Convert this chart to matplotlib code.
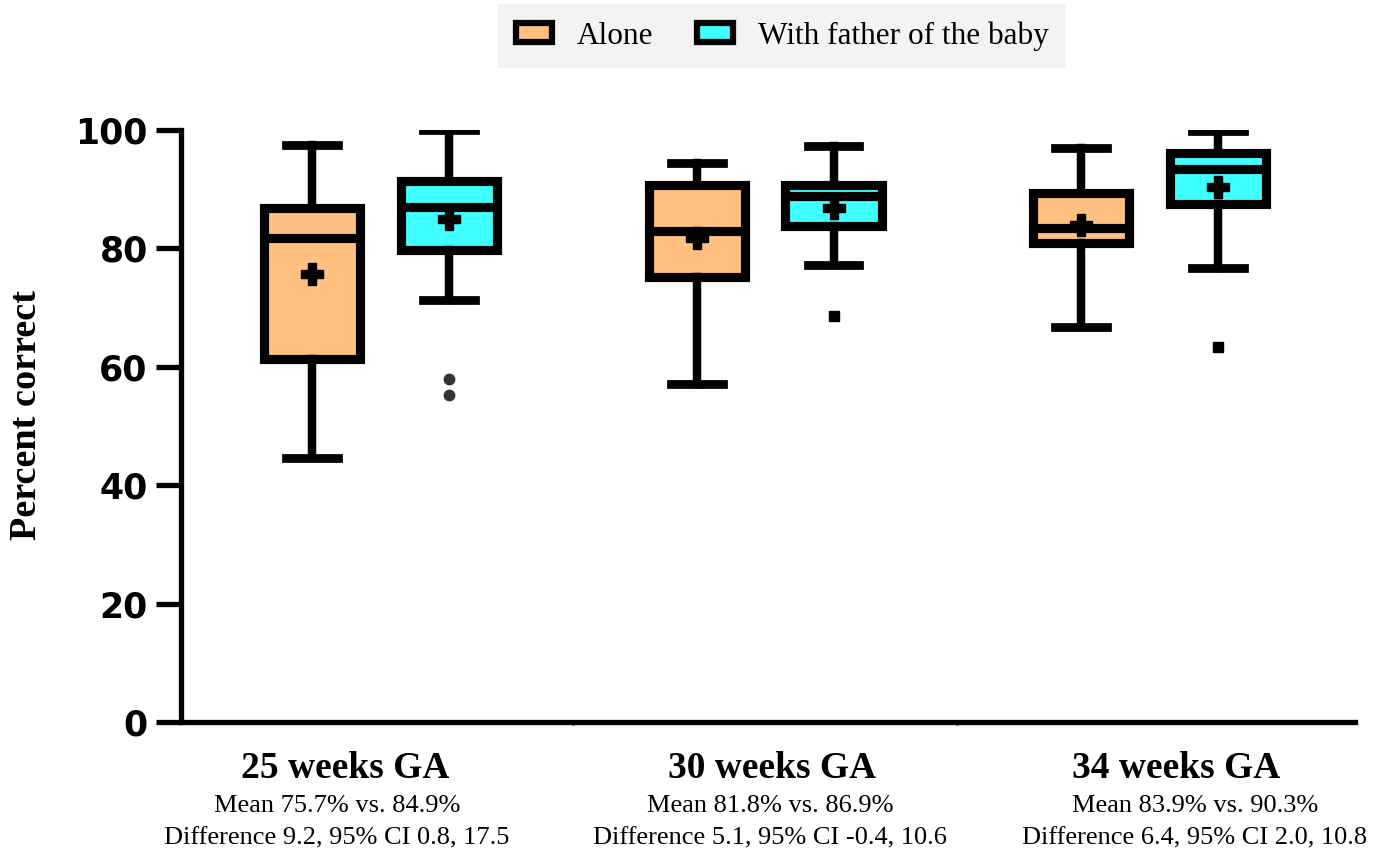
import matplotlib.pyplot as plt
from matplotlib.patches import Patch

plt.rcParams['font.family'] = ['Liberation Serif', 'DejaVu Serif']

# 数据
groups = ['25 weeks GA', '30 weeks GA', '34 weeks GA']
mean_lines = ['Mean 75.7% vs. 84.9%', 'Mean 81.8% vs. 86.9%', 'Mean 83.9% vs. 90.3%']
diff_lines = ['Difference 9.2, 95% CI 0.8, 17.5',
              'Difference 5.1, 95% CI -0.4, 10.6',
              'Difference 6.4, 95% CI 2.0, 10.8']
series_names = ['Alone', 'With father of the baby']

alone_lo = [44.6, 57.1, 66.7]
alone_q1 = [61.3, 75.2, 80.9]
alone_med = [81.8, 82.9, 83.4]
alone_q3 = [86.8, 90.7, 89.4]
alone_hi = [97.5, 94.4, 97.0]
alone_mean = [75.7, 81.8, 83.9]

fob_lo = [71.3, 77.2, 76.7]
fob_q1 = [79.7, 83.8, 87.5]
fob_med = [87.0, 88.8, 93.4]
fob_q3 = [91.4, 90.7, 96.1]
fob_hi = [100.0, 97.3, 99.8]
fob_mean = [84.9, 86.9, 90.3]
fob_outliers = [[57.9, 55.2], [68.6], [63.3]]
outlier_markers = ['o', 's', 's']

yticks = [0, 20, 40, 60, 80, 100]

c_alone = '#FFC080'
c_fob = '#40FFFF'

fig = plt.figure(figsize=(13.85, 8.56), dpi=100)
ax = fig.add_axes([181 / 1385, 1 - 722 / 856, (1355 - 181) / 1385, (722 - 130) / 856])

def make_stats(lo, q1, med, q3, hi, mean):
    return [dict(whislo=a, q1=b, med=c, q3=d, whishi=e, mean=m, fliers=[])
            for a, b, c, d, e, m in zip(lo, q1, med, q3, hi, mean)]

off = 0.178
pos_alone = [i + 1 - off for i in range(3)]
pos_fob = [i + 1 + off for i in range(3)]
lw = 6.6

for stats, pos, col in [(make_stats(alone_lo, alone_q1, alone_med, alone_q3, alone_hi, alone_mean), pos_alone, c_alone),
                        (make_stats(fob_lo, fob_q1, fob_med, fob_q3, fob_hi, fob_mean), pos_fob, c_fob)]:
    ax.bxp(stats, positions=pos, widths=0.25, capwidths=0.135, patch_artist=True,
           showmeans=True, showfliers=False,
           boxprops=dict(facecolor=col, edgecolor='black', linewidth=lw, joinstyle='miter'),
           medianprops=dict(color='black', linewidth=lw, solid_capstyle='butt'),
           whiskerprops=dict(color='black', linewidth=lw - 0.5),
           capprops=dict(color='black', linewidth=lw - 0.3),
           meanprops=dict(marker='P', markerfacecolor='black', markeredgecolor='black', markersize=16))

# 离群点
for p, vals, mk in zip(pos_fob, fob_outliers, outlier_markers):
    if mk == 'o':
        ax.plot([p] * len(vals), vals, linestyle='none', marker='o', color='#333333', markersize=7.5)
    else:
        ax.plot([p] * len(vals), vals, linestyle='none', marker='s', color='black', markersize=6.5)

ax.set_xlim(0.48, 3.535)
ax.set_ylim(0, 100)
ax.set_yticks(yticks)
ax.set_yticklabels([str(v) for v in yticks], family='DejaVu Sans', fontweight='heavy', fontsize=25)
ax.set_xticks([1.5, 2.5])
ax.set_xticklabels([])
ax.tick_params(axis='y', length=18, width=3.8, pad=6)
ax.tick_params(axis='x', length=2, width=2)
for s in ['top', 'right']:
    ax.spines[s].set_visible(False)
for s in ['left', 'bottom']:
    ax.spines[s].set_linewidth(3.8)

fig.text(27 / 1385, 1 - 415 / 856, 'Percent correct', rotation=90, fontsize=27.5,
         fontweight='bold', ha='center', va='center')

# 分组说明文字
gx = [345, 772, 1176]
sx = [337, 770, 1195]
for g, m, d, x1, x2 in zip(groups, mean_lines, diff_lines, gx, sx):
    fig.text(x1 / 1385, 1 - 768 / 856, g, fontsize=27, fontweight='bold', ha='center', va='center')
    fig.text(x2 / 1385, 1 - 806 / 856, m, fontsize=19, ha='center', va='center')
    fig.text(x2 / 1385, 1 - 838 / 856, d, fontsize=19, ha='center', va='center')

handles = [Patch(facecolor=c_alone, edgecolor='black', linewidth=4.5, label=series_names[0]),
           Patch(facecolor=c_fob, edgecolor='black', linewidth=4.5, label=series_names[1])]
leg = fig.legend(handles=handles, loc='center', bbox_to_anchor=(782 / 1385, 1 - 36 / 856),
                 ncol=2, fontsize=22.5, frameon=True, fancybox=False, handlelength=1.15,
                 handleheight=0.55, handletextpad=0.8, columnspacing=1.4, borderpad=0.55,
                 borderaxespad=0)
leg.get_frame().set_facecolor('#F0F0F0')
leg.get_frame().set_edgecolor('none')

fig.savefig('out.png', dpi=100)
